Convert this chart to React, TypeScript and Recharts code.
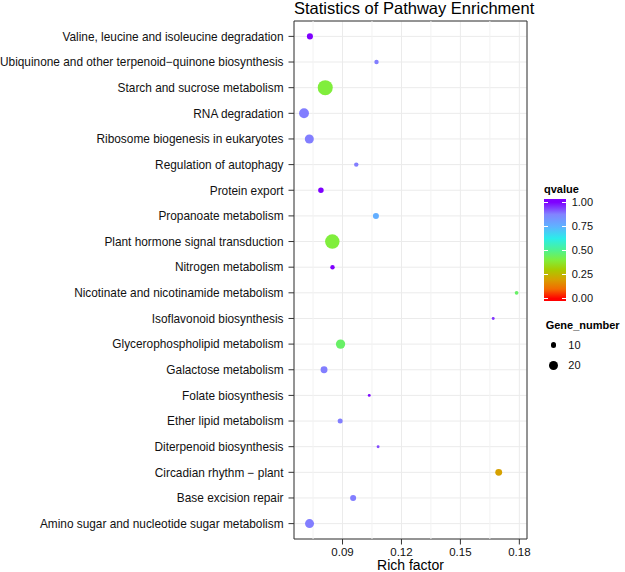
import {
  ScatterChart, Scatter, XAxis, YAxis, ZAxis, CartesianGrid, ReferenceLine, ReferenceArea, Cell,
} from "recharts"

// top to bottom, as drawn
const pathways = [
  "Valine, leucine and isoleucine degradation",
  "Ubiquinone and other terpenoid\u2212quinone biosynthesis",
  "Starch and sucrose metabolism",
  "RNA degradation",
  "Ribosome biogenesis in eukaryotes",
  "Regulation of autophagy",
  "Protein export",
  "Propanoate metabolism",
  "Plant hormone signal transduction",
  "Nitrogen metabolism",
  "Nicotinate and nicotinamide metabolism",
  "Isoflavonoid biosynthesis",
  "Glycerophospholipid metabolism",
  "Galactose metabolism",
  "Folate biosynthesis",
  "Ether lipid metabolism",
  "Diterpenoid biosynthesis",
  "Circadian rhythm \u2212 plant",
  "Base excision repair",
  "Amino sugar and nucleotide sugar metabolism",
]
const richFactor = [
  0.0734, 0.1073, 0.0812, 0.0704, 0.0731, 0.0970, 0.0790, 0.1070, 0.0848, 0.0849,
  0.1786, 0.1667, 0.0890, 0.0806, 0.1036, 0.0888, 0.1081, 0.1695, 0.0954, 0.0732,
]
const qvalue = [
  1.0, 0.88, 0.40, 0.88, 0.88, 0.88, 1.0, 0.76, 0.40, 1.0,
  0.45, 0.95, 0.45, 0.88, 0.99, 0.88, 0.93, 0.20, 0.88, 0.88,
]
const geneNumber = [
  12, 9, 46, 23, 20, 9, 11, 12, 43, 9,
  8, 7, 21, 14, 7, 10, 7, 14, 12, 20,
]
const xTicks = [0.09, 0.12, 0.15, 0.18]
const xMinorTicks = [0.075, 0.105, 0.135, 0.165]
const qTicks = [1, 0.75, 0.5, 0.25, 0]
const sizeTicks = [10, 20]

const X_DOMAIN = [0.0653, 0.1839]
const Y_DOMAIN = [-0.6, pathways.length - 0.4]
const Z_DOMAIN = [7, 46]
const Z_RANGE = [6.6, 178]

const FONT = "'Liberation Sans', Arial, Helvetica, sans-serif"

const Q_STOP_POS = [0, 0.1, 0.2, 0.3, 0.4, 0.5, 0.625, 0.75, 0.875, 1]
const Q_STOP_COL = [
  "#FF0000", "#F26B00", "#D6A100", "#A8CB00", "#80EE3C",
  "#4FF28F", "#2BEDEA", "#5FB2FF", "#8283FF", "#7F00FF",
]

function hexToRgb(h: string) {
  return [1, 3, 5].map((i) => parseInt(h.slice(i, i + 2), 16))
}

function qColor(q: number): string {
  for (let i = 1; i < Q_STOP_POS.length; i++) {
    if (q <= Q_STOP_POS[i]) {
      const t = (q - Q_STOP_POS[i - 1]) / (Q_STOP_POS[i] - Q_STOP_POS[i - 1])
      const a = hexToRgb(Q_STOP_COL[i - 1])
      const b = hexToRgb(Q_STOP_COL[i])
      const c = a.map((v, k) => Math.round(v + (b[k] - v) * t))
      return `rgb(${c[0]},${c[1]},${c[2]})`
    }
  }
  return Q_STOP_COL[Q_STOP_COL.length - 1]
}

// same linear area mapping as the ZAxis, for the legend dots
function geneRadius(g: number): number {
  const area = Z_RANGE[0] + ((g - Z_DOMAIN[0]) / (Z_DOMAIN[1] - Z_DOMAIN[0])) * (Z_RANGE[1] - Z_RANGE[0])
  return Math.sqrt(area / Math.PI)
}

const data = pathways.map((name, i) => ({
  name,
  y: pathways.length - 1 - i,
  rich: richFactor[i],
  q: qvalue[i],
  genes: geneNumber[i],
}))

function PathwayTick(props: any) {
  const { x, y, payload } = props
  return (
    <text x={x} y={y} dy="0.36em" textAnchor="end" fontSize={11.85} fill="#111" fontFamily={FONT}>
      {pathways[pathways.length - 1 - payload.value]}
    </text>
  )
}

const BAR_TOP = 199
const BAR_H = 102
const Q_TOP = 202.3
const Q_BOTTOM = 298.7

function qToY(q: number) {
  return Q_BOTTOM - q * (Q_BOTTOM - Q_TOP)
}

function QLegend() {
  const stops = Q_STOP_POS.map((p, i) => {
    const pct = ((qToY(p) - BAR_TOP) / BAR_H) * 100
    return `${Q_STOP_COL[i]} ${pct.toFixed(1)}%`
  }).reverse()
  return (
    <>
      <div style={{ position: "absolute", left: 544, top: 183.7, fontSize: 11, lineHeight: "11px", fontWeight: "bold" }}>
        qvalue
      </div>
      <div
        style={{
          position: "absolute", left: 544.3, top: BAR_TOP, width: 21.4, height: BAR_H,
          background: `linear-gradient(to bottom, ${stops.join(", ")})`,
        }}
      />
      {qTicks.map((q) => (
        <div key={q}>
          <div style={{ position: "absolute", left: 544.3, top: qToY(q) - 0.5, width: 4, height: 1, background: "#fff" }} />
          <div style={{ position: "absolute", left: 561.7, top: qToY(q) - 0.5, width: 4, height: 1, background: "#fff" }} />
          <div style={{ position: "absolute", left: 571.7, top: qToY(q) - 5.5, fontSize: 11, lineHeight: "11px", color: "#111" }}>
            {q.toFixed(2)}
          </div>
        </div>
      ))}
    </>
  )
}

function SizeLegend() {
  const rowY = [345, 365.7]
  return (
    <>
      <div style={{ position: "absolute", left: 545.7, top: 319.7, fontSize: 11, lineHeight: "11px", fontWeight: "bold" }}>
        Gene_number
      </div>
      {sizeTicks.map((g, i) => {
        const r = geneRadius(g)
        return (
          <div key={g}>
            <div
              style={{
                position: "absolute", left: 553.3 - r, top: rowY[i] - r, width: 2 * r, height: 2 * r,
                borderRadius: "50%", background: "#000",
              }}
            />
            <div style={{ position: "absolute", left: 568.3, top: rowY[i] - 5.5, fontSize: 11, lineHeight: "11px", color: "#111" }}>
              {g}
            </div>
          </div>
        )
      })}
    </>
  )
}

export default function App() {
  return (
    <div style={{ position: "absolute", left: 0, top: 0, width: 625, height: 572, background: "#fff", fontFamily: FONT, overflow: "hidden" }}>
      <div
        style={{
          position: "absolute", left: 294, top: 0, width: 233, textAlign: "center",
          fontSize: 16.5, lineHeight: "16.5px", color: "#000", whiteSpace: "nowrap",
        }}
      >
        Statistics of Pathway Enrichment
      </div>
      <ScatterChart
        width={625}
        height={572}
        margin={{ top: 21, right: 98, bottom: 0, left: 0 }}
        style={{ fontFamily: FONT }}
      >
        <CartesianGrid stroke="#EBEBEB" strokeWidth={1} />
        {xMinorTicks.map((v) => (
          <ReferenceLine key={v} x={v} stroke="#F2F2F2" strokeWidth={1} />
        ))}
        <XAxis
          type="number"
          dataKey="rich"
          domain={X_DOMAIN}
          ticks={xTicks}
          interval={0}
          allowDataOverflow
          height={33}
          tickSize={5.5}
          tickMargin={3}
          axisLine={false}
          tickLine={{ stroke: "#333" }}
          tick={{ fontSize: 11.5, fill: "#111" }}
          tickFormatter={(v: number) => v.toFixed(2)}
          label={{ value: "Rich factor", position: "insideBottom", offset: 2, fontSize: 14, fill: "#000" }}
        />
        <YAxis
          type="number"
          dataKey="y"
          domain={Y_DOMAIN}
          ticks={pathways.map((_, i) => i)}
          interval={0}
          allowDataOverflow
          width={294}
          tickSize={5.5}
          tickMargin={5}
          axisLine={false}
          tickLine={{ stroke: "#333" }}
          tick={<PathwayTick />}
        />
        <ZAxis type="number" dataKey="genes" domain={Z_DOMAIN} range={Z_RANGE} />
        <ReferenceArea
          x1={X_DOMAIN[0]}
          x2={X_DOMAIN[1]}
          y1={Y_DOMAIN[0]}
          y2={Y_DOMAIN[1]}
          fill="none"
          stroke="#333"
          strokeWidth={1}
          ifOverflow="visible"
        />
        <Scatter data={data} isAnimationActive={false}>
          {data.map((d, i) => (
            <Cell key={i} fill={qColor(d.q)} />
          ))}
        </Scatter>
      </ScatterChart>
      <QLegend />
      <SizeLegend />
    </div>
  )
}
